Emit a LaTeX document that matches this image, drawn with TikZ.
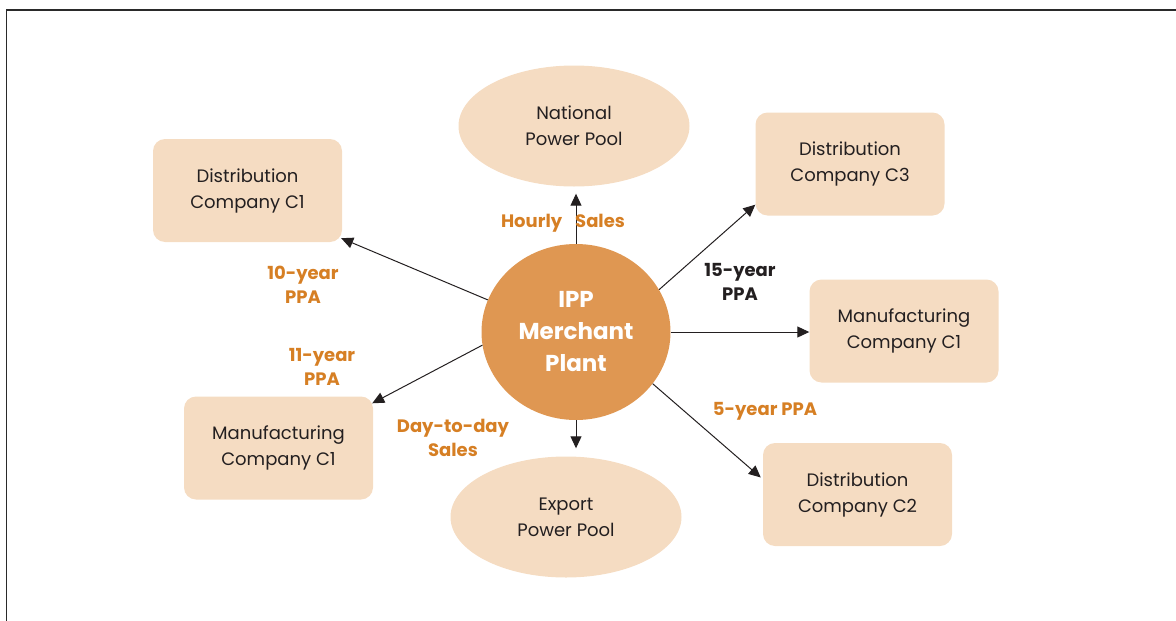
\documentclass[tikz,border=0pt]{standalone}
\usepackage{fontspec}
\setmainfont{Poppins}
\usetikzlibrary{shapes.geometric,arrows.meta,calc}
\definecolor{boxfill}{HTML}{F5DCC2}
\definecolor{ippfill}{HTML}{DF9752}
\definecolor{lblorange}{HTML}{D67F24}
\definecolor{txtdark}{HTML}{231F20}
\definecolor{framecol}{HTML}{2A2A2A}
\tikzset{
  compbox/.style={draw=none,fill=boxfill,rounded corners=12pt,minimum width=189pt,minimum height=103pt,inner sep=0pt,align=center,text=txtdark,font=\fontsize{18}{26}\selectfont},
  pool/.style={ellipse,draw=none,fill=boxfill,minimum width=231pt,minimum height=121pt,inner sep=0pt,align=center,text=txtdark,font=\fontsize{18}{26}\selectfont},
  hub/.style={ellipse,draw=none,fill=ippfill,minimum width=189pt,minimum height=176pt,inner sep=0pt,align=center,text=white,font=\fontsize{23}{32}\selectfont\bfseries},
  lbl/.style={align=center,text=lblorange,inner sep=0pt,font=\fontsize{18}{24}\selectfont\bfseries},
  arr/.style={draw=txtdark,line width=1pt,-{Triangle[length=12pt,width=11pt]}},
}
\begin{document}
\begin{tikzpicture}[x=1pt,y=-1pt]
\useasboundingbox (0,0) rectangle (1176,621);
\draw[framecol,line width=1.6pt] (6.5,700) -- (6.5,10) -- (1200,10);
\node[hub] (ipp) at (576,332) {IPP\\Merchant\\Plant};
\node[pool] (npp) at (574,126) {National\\Power Pool};
\node[pool] (epp) at (566,517) {Export\\Power Pool};
\node[compbox] (dc1) at (247.5,190.5) {Distribution\\Company C1};
\node[compbox] (dc3) at (850,164) {Distribution\\Company C3};
\node[compbox] (mr) at (904,331) {Manufacturing\\Company C1};
\node[compbox] (ml) at (278.5,448) {Manufacturing\\Company C1};
\node[compbox] (dc2) at (857.5,494.5) {Distribution\\Company C2};
\draw[arr,shorten >=7pt] (ipp.north) -- (ipp.north |- npp.south);
\draw[arr,shorten >=8pt] (ipp.south) -- (ipp.south |- epp.north);
\draw[arr] (ipp.160.3) -- ($(dc1.south east)+(-1,-4)$);
\draw[arr] (ipp.188.9) -- ($(ml.north east)+(-1,7)$);
\draw[arr] (ipp.27.1) -- ($(dc3.south west)+(0,-11)$);
\draw[arr] (ipp.east) -- (ipp.east -| mr.west);
\draw[arr] (ipp.-34.6) -- ($(dc2.west)+(-2,-17)$);
\node[lbl] (hs) at (563,223) {Hourly\hspace{13pt}Sales};
\node[lbl] (p10) at (303,285) {10-year\\PPA};
\node[lbl] (p11) at (322,367) {11-year\\PPA};
\node[lbl] (dd) at (453,438) {Day-to-day\\Sales};
\node[lbl,text=txtdark] (p15) at (740,282) {15-year\\PPA};
\node[lbl] (p5) at (765,411) {5-year PPA};
\end{tikzpicture}
\end{document}
